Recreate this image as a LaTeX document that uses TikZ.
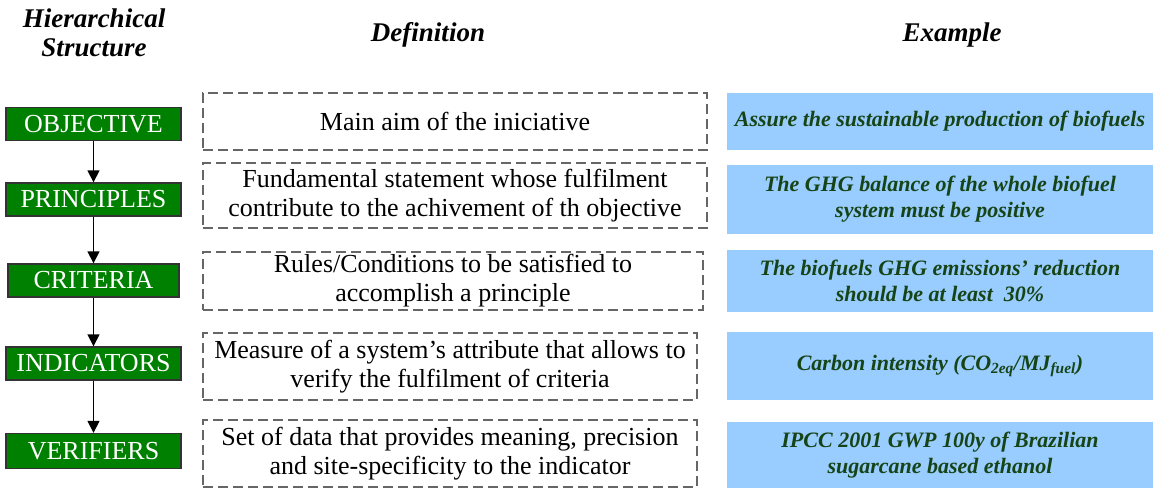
\documentclass[tikz,border=0pt]{standalone}
\usepackage{fontspec}
\setmainfont{Liberation Serif}
\usetikzlibrary{arrows.meta}
\definecolor{levelgreen}{RGB}{0,128,0}
\definecolor{exampleblue}{RGB}{153,204,255}
\definecolor{exampletext}{RGB}{22,68,22}
\begin{document}
\begin{tikzpicture}[x=1pt, y=-1pt,
    level/.style = {draw=black!80, line width=1.4pt, fill=levelgreen, text=white, inner sep=0pt,
                    minimum width=175pt, minimum height=33pt, font=\fontsize{26}{28}\selectfont},
    defbox/.style = {draw=black!60, dash pattern=on 10pt off 5pt, line width=2.4pt, align=center,
                     inner sep=0pt, font=\fontsize{26}{29}\selectfont},
    exbox/.style = {fill=exampleblue, text=exampletext, align=center, inner sep=0pt,
                    minimum width=426pt, font=\fontsize{22}{26}\bfseries\itshape\selectfont},
    head/.style = {align=center, font=\fontsize{27}{29}\bfseries\itshape\selectfont}]
  \useasboundingbox (0,0) rectangle (1154,488);

  % column headers
  \node[head] (hs) at (94,33) {Hierarchical\\Structure};
  \node[head] (def) at (428,35) {Definition};
  \node[head] (ex) at (952,35) {Example};

  % hierarchy levels
  \node[level] (obj) at (93.5,124) {OBJECTIVE};
  \node[level] (pri) at (93.5,199.5) {PRINCIPLES};
  \node[level, minimum width=171pt] (cri) at (93.5,280.5) {CRITERIA};
  \node[level] (ind) at (93.5,363.5) {INDICATORS};
  \node[level, minimum height=35pt] (ver) at (93.5,451) {VERIFIERS};

  \path[-{Triangle[width=12pt,length=12pt]}, line width=1.6pt] (obj) edge (pri);
  \path[-{Triangle[width=12pt,length=12pt]}, line width=1.6pt] (pri) edge (cri);
  \path[-{Triangle[width=12pt,length=12pt]}, line width=1.6pt] (cri) edge (ind);
  \path[-{Triangle[width=12pt,length=12pt]}, line width=1.6pt] (ind) edge (ver);

  % definitions
  \node[defbox, minimum width=504pt, minimum height=57pt] (dobj) at (455,121.5)
    {Main aim of the iniciative};
  \node[defbox, minimum width=504pt, minimum height=65pt] (dpri) at (455,195.5)
    {Fundamental statement whose fulfilment\\contribute to the achivement of th objective};
  \node[defbox, minimum width=500pt, minimum height=58pt] (dcri) at (453,281)
    {Rules/Conditions to be satisfied to\\accomplish a principle};
  \node[defbox, minimum width=494pt, minimum height=67pt] (dind) at (450,366.5)
    {Measure of a system’s attribute that allows to\\verify the fulfilment of criteria};
  \node[defbox, minimum width=494pt, minimum height=67pt] (dver) at (450,453.5)
    {Set of data that provides meaning, precision\\and site-specificity to the indicator};

  % examples
  \node[exbox, minimum height=57pt] (eobj) at (940,121.5)
    {Assure the sustainable production of biofuels};
  \node[exbox, minimum height=69pt] (epri) at (940,199.5)
    {The GHG balance of the whole biofuel\\system must be positive};
  \node[exbox, minimum height=62pt] (ecri) at (940,281)
    {The biofuels GHG emissions’ reduction\\should be at least\ \ 30\%};
  \node[exbox, minimum height=68pt] (eind) at (940,366)
    {Carbon intensity (CO\textsubscript{2eq}/MJ\textsubscript{fuel})};
  \node[exbox, minimum height=66pt] (ever) at (940,455)
    {IPCC 2001 GWP 100y of Brazilian\\sugarcane based ethanol};
\end{tikzpicture}
\end{document}
